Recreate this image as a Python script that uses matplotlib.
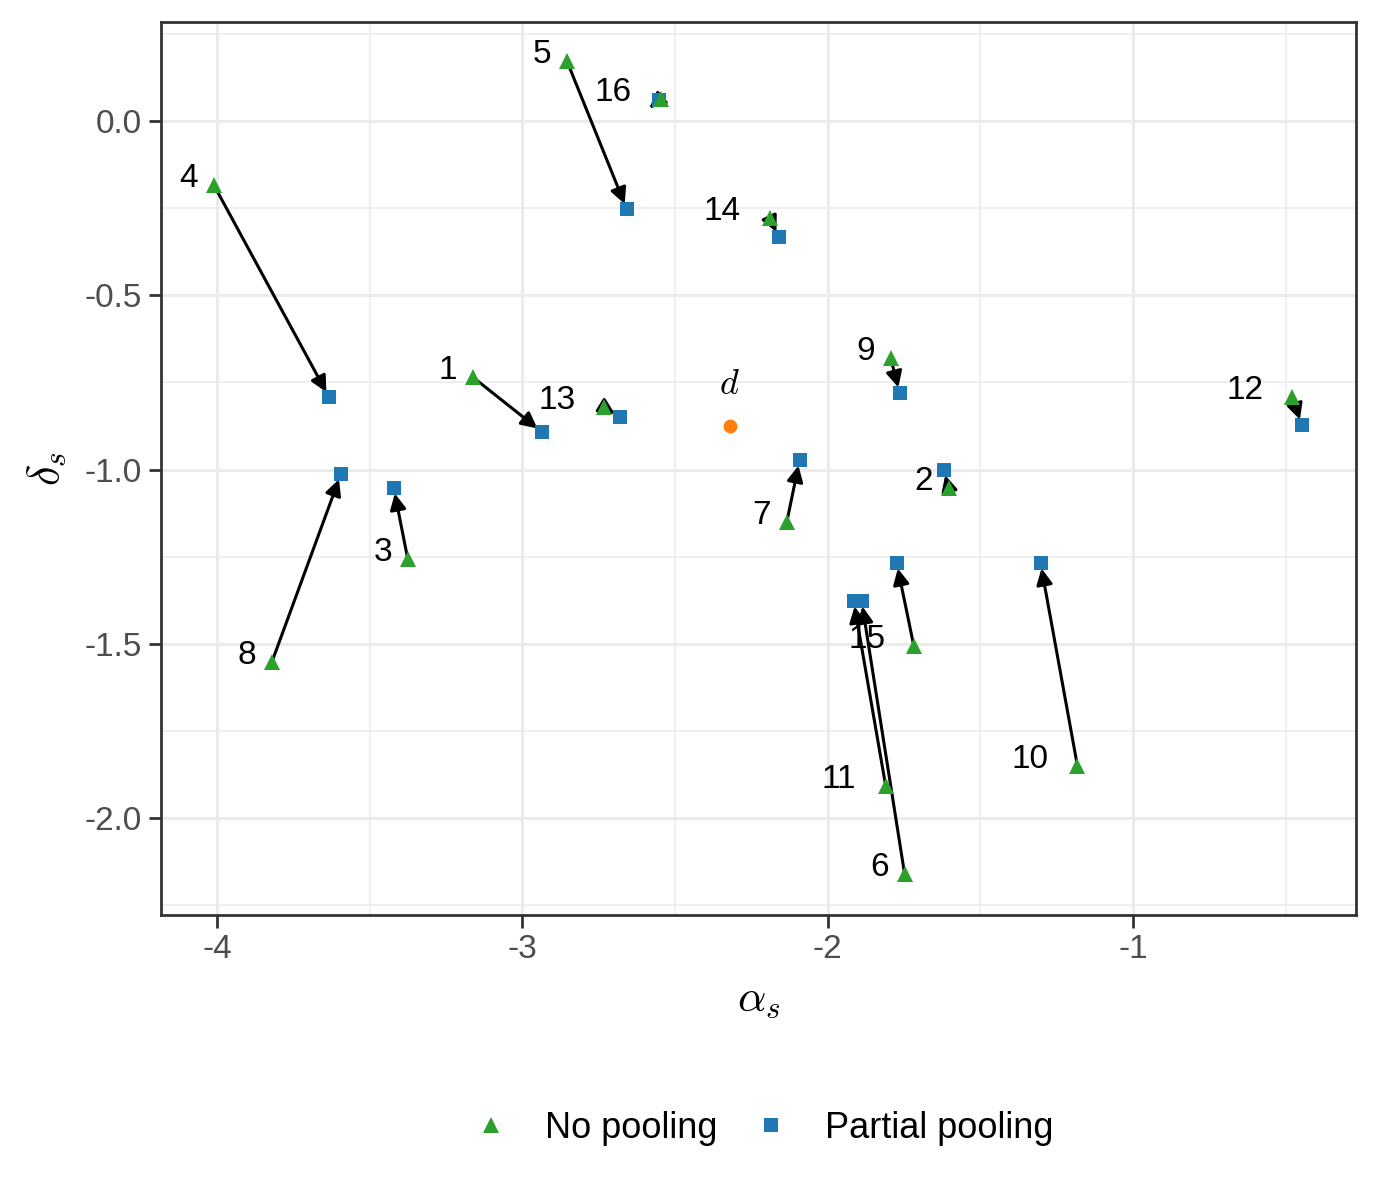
import matplotlib
matplotlib.use('Agg')
import matplotlib.pyplot as plt
import numpy as np

plt.rcParams['font.family'] = ['Liberation Sans', 'DejaVu Sans']
plt.rcParams['mathtext.fontset'] = 'cm'

# estimates
labels = ['1', '2', '3', '4', '5', '6', '7', '8', '9', '10', '11', '12', '13', '14', '15', '16']
alpha_np = [-3.162, -1.604, -3.375, -4.010, -2.854, -1.748, -2.134, -3.820,
            -1.794, -1.182, -1.810, -0.478, -2.733, -2.190, -1.718, -2.547]
delta_np = [-0.735, -1.053, -1.257, -0.184, 0.172, -2.161, -1.151, -1.552,
            -0.680, -1.851, -1.908, -0.792, -0.821, -0.278, -1.506, 0.064]
alpha_pp = [-2.936, -1.620, -3.421, -3.633, -2.658, -1.889, -2.092, -3.594,
            -1.764, -1.303, -1.915, -0.448, -2.681, -2.160, -1.774, -2.551]
delta_pp = [-0.892, -1.001, -1.053, -0.792, -0.253, -1.377, -0.973, -1.013,
            -0.780, -1.268, -1.377, -0.872, -0.849, -0.333, -1.268, 0.061]
d_alpha, d_delta = -2.321, -0.875

green = '#2ca02c'
blue = '#1f77b4'
orange = '#ff7f0e'

fig, ax = plt.subplots(figsize=(6.9, 6), dpi=200)
fig.subplots_adjust(left=0.1167, right=0.9826, top=0.9817, bottom=0.2375)

ax.set_xlim(-4.183, -0.27)
ax.set_ylim(-2.278, 0.284)
ax.set_xticks([-4, -3, -2, -1])
ax.set_xticklabels(['-4', '-3', '-2', '-1'])
ax.set_yticks([0.0, -0.5, -1.0, -1.5, -2.0])
ax.set_yticklabels(['0.0', '-0.5', '-1.0', '-1.5', '-2.0'])
ax.set_xticks([-3.5, -2.5, -1.5, -0.5], minor=True)
ax.set_yticks([0.25, -0.25, -0.75, -1.25, -1.75, -2.25], minor=True)
ax.grid(which='major', color='#EBEBEB', lw=1.07)
ax.grid(which='minor', color='#EBEBEB', lw=0.55)
ax.set_axisbelow(True)
for s in ax.spines.values():
    s.set_color('#333333')
    s.set_linewidth(1.0)
ax.tick_params(which='major', length=4.5, width=1.0, color='#333333',
               labelsize=12, labelcolor='#4D4D4D', pad=2.5)
ax.tick_params(which='minor', length=0)

# arrows no pooling -> partial pooling; very short ones get a minimum length
to_px = ax.transData
min_len = 15.0
for i in range(len(labels)):
    p0 = to_px.transform((alpha_np[i], delta_np[i]))
    p1 = to_px.transform((alpha_pp[i], delta_pp[i]))
    v = p1 - p0
    n = np.hypot(*v)
    shrink = 2
    if n < min_len:
        p1 = p0 + v / n * min_len
        shrink = 0
    end = to_px.inverted().transform(p1)
    ax.annotate('', xy=end, xytext=(alpha_np[i], delta_np[i]),
                arrowprops=dict(arrowstyle='-|>', color='black', lw=1.1,
                                mutation_scale=12, shrinkA=0, shrinkB=shrink),
                zorder=2)

ax.plot(alpha_pp, delta_pp, 's', color=blue, ms=4.7, mew=0, zorder=3, label='Partial pooling')
ax.plot(alpha_np, delta_np, '^', color=green, ms=5.8, mew=0, zorder=4, label='No pooling')
ax.plot([d_alpha], [d_delta], 'o', color=orange, ms=5, mew=0, zorder=4)
ax.annotate(r'$d$', (d_alpha, d_delta), xytext=(0, 8.5), textcoords='offset points',
            ha='center', va='bottom', fontsize=13)

for i, lab in enumerate(labels):
    dx = -(1.1 + 7.95 * len(lab))
    ax.annotate(lab, (alpha_np[i], delta_np[i]), xytext=(dx, -0.8),
                textcoords='offset points', ha='center', va='baseline',
                fontsize=12, color='black', zorder=5)

ax.set_xlabel(r'$\alpha_s$', fontsize=16, labelpad=5)
ax.set_ylabel(r'$\delta_s$', fontsize=16, labelpad=6)

handles, names = ax.get_legend_handles_labels()
fig.legend(handles[::-1], names[::-1], loc='center', bbox_to_anchor=(0.553, 0.060),
           ncol=2, frameon=False, fontsize=13, handletextpad=1.0,
           columnspacing=1.0, handlelength=1.0)

fig.savefig('out.png', dpi=200)
